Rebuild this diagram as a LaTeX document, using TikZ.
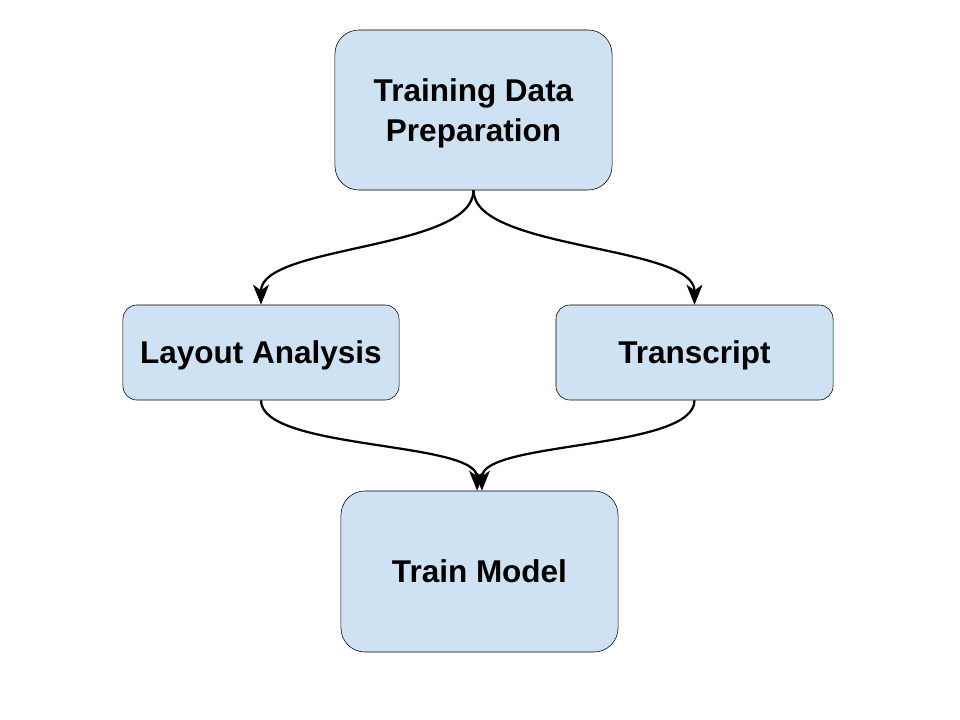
\documentclass[tikz,border=0pt]{standalone}
\usepackage{fontspec}
\setmainfont{Liberation Sans}
\usetikzlibrary{arrows.meta}
\begin{document}
\begin{tikzpicture}[x=.025cm,y=-.025cm,
  box/.style={draw,fill=boxblue,rounded corners=.6cm,align=center,font=\bfseries\fontsize{22.4}{28.5}\selectfont,inner sep=0pt,text depth=0pt},
  flow/.style={line width=1.6pt,-{Stealth[length=.5cm,width=.4cm,inset=.14cm]}}]
\definecolor{boxblue}{HTML}{CFE2F3}
\useasboundingbox (0,0) rectangle (960,720);
\node[box,minimum width=6.925cm,minimum height=4cm](prep) at(473.5,110){Training Data\\Preparation};
\node[box,rounded corners=.35cm,minimum width=6.9cm,minimum height=2.375cm](layout) at(261,352.5){Layout Analysis};
\node[box,rounded corners=.35cm,minimum width=6.925cm,minimum height=2.375cm](trans) at(694.5,352.5){Transcript};
\node[box,minimum width=6.925cm,minimum height=4.025cm](train) at(479.5,571.5){Train Model};
\draw[flow](prep.south) .. controls +(0,60) and +(0,-60) .. (layout.north);
\draw[flow](prep.south) .. controls +(0,60) and +(0,-60) .. (trans.north);
\draw[flow](layout.south) .. controls +(0,50) and +(0,-50) .. ([xshift=-.06cm]train.north);
\draw[flow](trans.south) .. controls +(0,50) and +(0,-50) .. ([xshift=.06cm]train.north);
\end{tikzpicture}
\end{document}
